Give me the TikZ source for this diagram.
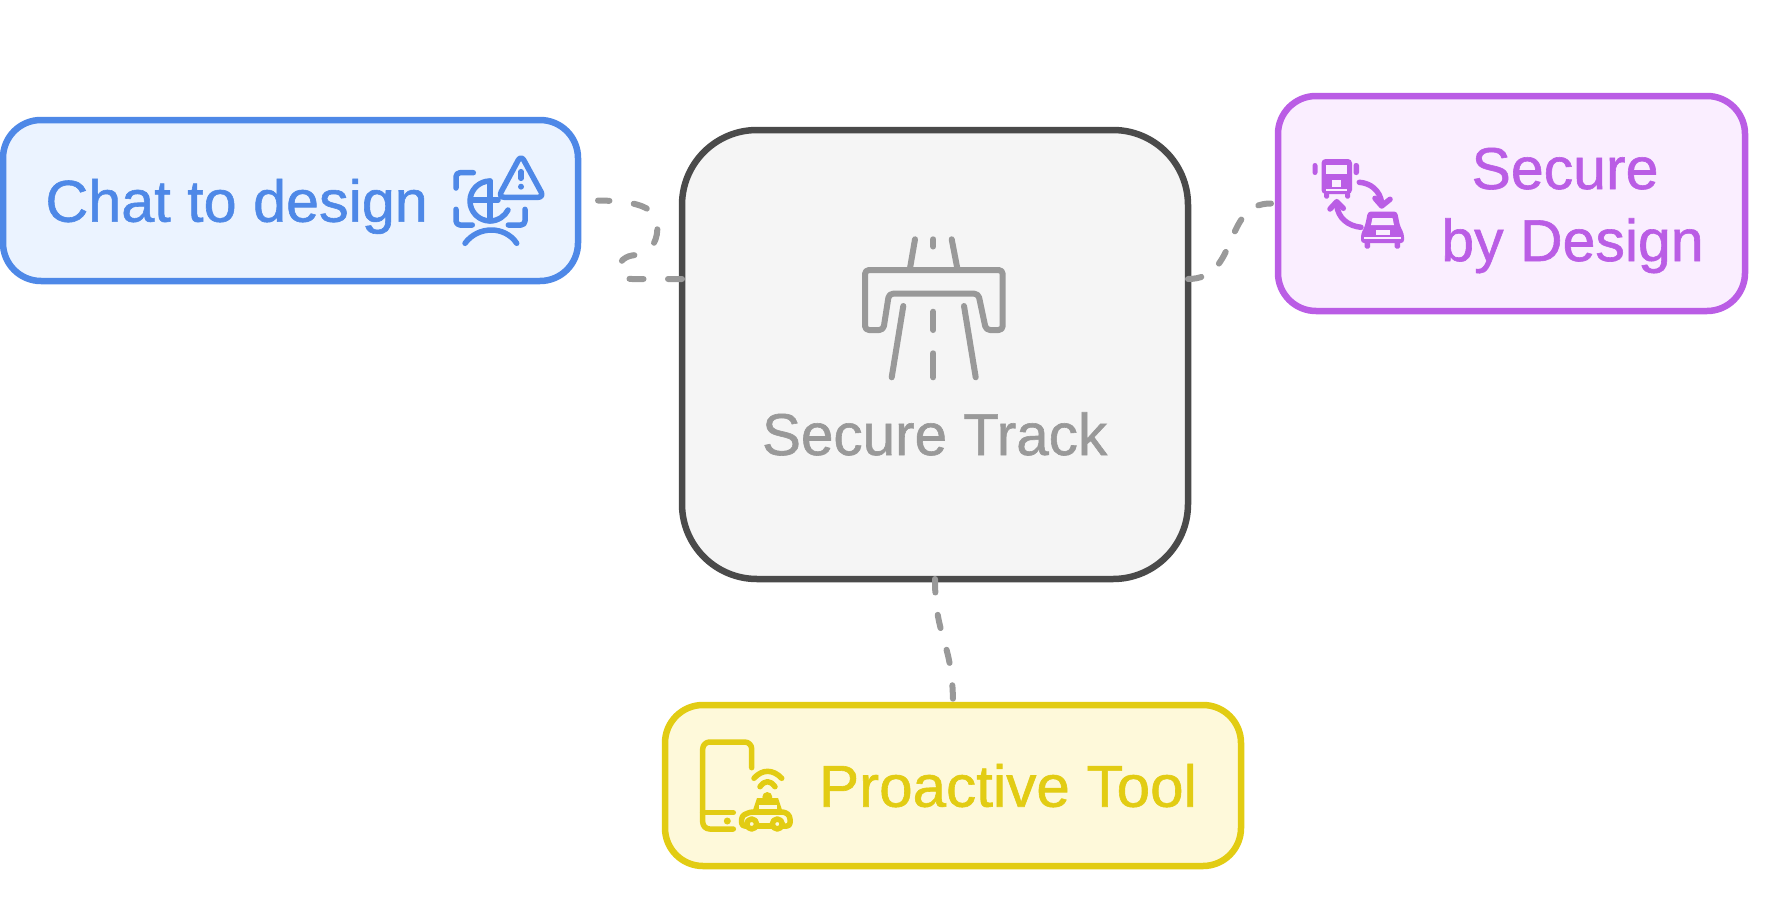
\documentclass[tikz,border=0pt]{standalone}
\usepackage{graphicx}
\usepackage{fontspec}
\setmainfont{Liberation Sans}
\newfontfamily\labelface[FakeBold=1]{Liberation Sans}
\definecolor{cblue}{HTML}{4E88E7}\definecolor{fblue}{HTML}{EBF3FF}
\definecolor{cpurple}{HTML}{BA5DE5}\definecolor{fpurple}{HTML}{FAEEFF}
\definecolor{cyellow}{HTML}{E2CC13}\definecolor{fyellow}{HTML}{FEF9DA}
\definecolor{cdark}{HTML}{4A4A4A}\definecolor{fgray}{HTML}{F5F5F5}
\definecolor{cgray}{HTML}{999999}
\tikzset{
  box/.style={draw,rectangle,line width=6.5pt,rounded corners=38pt,inner sep=0pt,outer sep=0pt},
  label/.style={anchor=base west,inner sep=0pt,outer sep=0pt,font=\labelface\fontsize{59}{72}\selectfont},
  conn/.style={draw=cgray,line width=6pt,line cap=round,dash pattern=on 13.5pt off 22.5pt},
  icon/.style={line width=5.5pt,line cap=round,line join=round},
}
\begin{document}
\begin{tikzpicture}[x=1pt,y=-1pt]
\useasboundingbox (0,0) rectangle (1791,902);
% boxes
\node[box,draw=cblue,fill=fblue,minimum width=575pt,minimum height=161pt] (chat) at (290.5,200.5) {};
\node[box,draw=cdark,fill=fgray,rounded corners=75pt,minimum width=506pt,minimum height=449pt] (secure) at (935,354.5) {};
\node[box,draw=cpurple,fill=fpurple,minimum width=467pt,minimum height=215pt] (design) at (1511.5,203.5) {};
\node[box,draw=cyellow,fill=fyellow,minimum width=576pt,minimum height=161pt] (tool) at (953,785.5) {};
% labels
\node[label,text=cblue] (chatlabel) at (45.5,221.7) {\scalebox{1.005}[1]{Chat to design}};
\node[label,text=cgray] (securelabel) at (762,455) {\scalebox{0.99}[1]{Secure Track}};
\node[label,text=cyellow] (toollabel) at (819,806.7) {\scalebox{1.02}[1]{Proactive Tool}};
\node[anchor=base,inner sep=0pt,outer sep=0pt,align=center,text=cpurple,font=\labelface\fontsize{59}{72}\selectfont] (designlabel) at (1572.5,261) {Secure\hspace*{15pt}\\by Design};
% connectors
\coordinate (chatout) at ([xshift=20pt]chat.east);
\coordinate (secureleft) at ([yshift=75.5pt]secure.west);
\coordinate (secureright) at ([yshift=75.5pt]secure.east);
\coordinate (designin) at ([xshift=-7pt]design.west);
\draw[conn,dash pattern=on 14pt off 24.5pt] (secureleft) -- (632,279) .. controls (614,279) and (614,256) .. (636,255) .. controls (652,254) and (659,238) .. (657,224) .. controls (655,208) and (640,201) .. (chatout);
\draw[conn] (secureright) .. controls (1240,279) and (1222,203) .. (designin);
\draw[conn] (secure.south) .. controls (935,640) and (953,640) .. (tool.north);
% road icon
\begin{scope}[icon,draw=cgray,line width=6pt]
\draw[rounded corners=4pt] (865,270) -- (1002.7,270) -- (1002.7,330) -- (986,330) -- (978.3,293.7) -- (889,293.7) -- (883.3,330) -- (865,330) -- cycle;
\draw (915,239.3) -- (910,268.3);
\draw (951.7,239.3) -- (957.3,268.3);
\draw (933.3,239.3) -- (933.3,246.5);
\draw (903.3,306) -- (891.7,377.3);
\draw (964,306) -- (975.7,377.3);
\draw (933.3,311.7) -- (933.3,330);
\draw (933.3,353.3) -- (933.3,377.3);
\end{scope}
% chat icon
\begin{scope}[icon,draw=cblue]
\draw[rounded corners=4pt] (473.3,172.7) -- (456,172.7) -- (456,188);
\draw[rounded corners=4pt] (456,209.3) -- (456,225) -- (472.3,225);
\draw[rounded corners=4pt] (525,209.3) -- (525,225) -- (508.3,225);
\draw (490,181) .. controls (479,181) and (470,190) .. (470,201) .. controls (470,212) and (479,221) .. (490,221) .. controls (498,221) and (505,216) .. (508,210);
\draw (490,181) -- (490,221);
\draw (470.5,200) -- (498,200);
\draw (465,243.3) .. controls (478,225.6) and (505,225.6) .. (516.7,243.3);
\draw[rounded corners=6pt] (521,155) -- (544,197.3) -- (498.3,197.3) -- cycle;
\draw (521,171.7) -- (521,178.3);
\fill[cblue] (521,186.7) circle[radius=3pt];
\end{scope}
% bus and car icon
\begin{scope}[icon,draw=cpurple]
\fill[cpurple,rounded corners=4pt] (1321.5,159) rectangle (1352,194);
\fill[fpurple] (1326,165) rectangle (1347,174);
\fill[fpurple] (1332,180) rectangle (1341,187);
\fill[fpurple] (1326,188.5) rectangle (1347,190.5);
\fill[cpurple,rounded corners=1.5pt] (1324,192) rectangle (1329,198.5);
\fill[cpurple,rounded corners=1.5pt] (1345,192) rectangle (1350,198.5);
\fill[cpurple,rounded corners=2.5pt] (1312.5,163) rectangle (1317.5,175);
\fill[cpurple,rounded corners=2.5pt] (1353.5,163) rectangle (1359,175);
\draw (1359.3,182.3) .. controls (1370,183) and (1380,190) .. (1381.7,203);
\draw (1375,198.3) -- (1381.7,206) -- (1390,199.3);
\draw (1361,227.3) .. controls (1348,226) and (1338,218) .. (1336.7,205);
\draw (1330,209) -- (1336.7,201.7) -- (1343.3,208.3);
\fill[cpurple,rounded corners=3pt] (1368,211.5) -- (1397,211.5) -- (1400,226) -- (1404,234) -- (1404,243) -- (1361,243) -- (1361,234) -- (1365,226) -- cycle;
\fill[fpurple] (1372.5,218) -- (1392.5,218) -- (1394,225) -- (1371,225) -- cycle;
\fill[fpurple] (1376,230) rectangle (1390,235);
\fill[fpurple] (1364,236.5) rectangle (1401,238.5);
\fill[cpurple,rounded corners=1.5pt] (1364.5,241) rectangle (1370,248.5);
\fill[cpurple,rounded corners=1.5pt] (1394.5,241) rectangle (1400,248.5);
\end{scope}
% phone and taxi icon
\begin{scope}[icon,draw=cyellow]
\draw[rounded corners=7pt] (751.7,767.7) -- (751.7,742) -- (702.7,742) -- (702.7,829) -- (733.3,829);
\draw (702.7,812.7) -- (733.3,812.7);
\fill[cyellow] (727.3,821) circle[radius=3.5pt];
\draw (754,778.3) .. controls (762,769) and (773,769) .. (781.7,778.3);
\draw (760,786.7) .. controls (765,780) and (770,780) .. (775,786.7);
\fill[cyellow] (767.3,797) circle[radius=5pt];
\fill[cyellow] (757,798) -- (778,798) -- (783,813) -- (752,813) -- cycle;
\fill[fyellow] (758.5,805) rectangle (776.5,809);
\draw[rounded corners=3pt] (746,826) -- (741.7,826) -- (741.7,816) -- (750,812) -- (785,812) -- (790,816) -- (790,826) -- (783,826);
\draw (757,826) -- (772,826);
\draw[fill=fyellow] (751.7,824) circle[radius=5pt];
\draw[fill=fyellow] (777.3,824) circle[radius=5pt];
\end{scope}
\end{tikzpicture}
\end{document}
